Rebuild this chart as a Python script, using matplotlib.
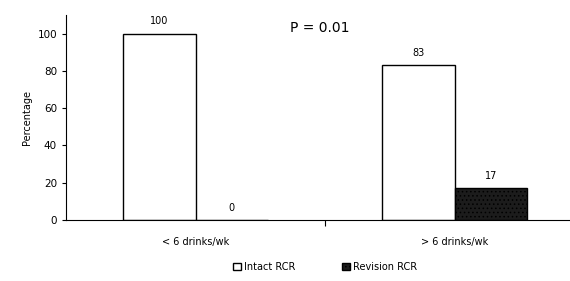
import matplotlib.pyplot as plt
import numpy as np

categories = ["< 6 drinks/wk", "> 6 drinks/wk"]
intact = [100, 83]
revision = [0, 17]
series_names = ["Intact RCR", "Revision RCR"]

plt.rcParams["hatch.color"] = "#4a4a4a"
plt.rcParams["hatch.linewidth"] = 0.6

fig = plt.figure(figsize=(5.7, 2.81), dpi=100)
ax = fig.add_axes([66 / 570, 1 - 220 / 281, 518 / 570, 205 / 281])

x = np.arange(len(categories))
w = 0.28
b1 = ax.bar(x - w / 2, intact, w, facecolor="white", edgecolor="black", linewidth=1.0, label=series_names[0])
b2 = ax.bar(x + w / 2, revision, w, facecolor="#1c1c1c", edgecolor="black", linewidth=1.0,
            hatch="....", label=series_names[1])

for bars in (b1, b2):
    for r in bars:
        ax.text(r.get_x() + r.get_width() / 2, r.get_height() + 4, f"{r.get_height():.0f}",
                ha="center", va="bottom", fontsize=7)

ax.set_xlim(-0.5, 1.5)
ax.set_ylim(0, 110)
ax.set_yticks(range(0, 101, 20))
ax.tick_params(axis="y", labelsize=7.5, length=3, direction="out")
ax.set_xticks([0.5])
ax.set_xticklabels([""])
ax.tick_params(axis="x", length=4, direction="out")
for i, c in enumerate(categories):
    ax.text(i, -9, c, ha="center", va="top", fontsize=7)
ax.set_ylabel("Percentage", fontsize=7)
ax.spines["top"].set_visible(False)
ax.spines["right"].set_visible(False)

ax.text(0.48, 103, "P = 0.01", fontsize=10, ha="center", va="center")

fig.legend(handles=[b1, b2], labels=series_names, loc="center", bbox_to_anchor=(325 / 570, 1 - 267 / 281),
           ncol=2, frameon=False, fontsize=7, handlelength=0.8, handleheight=0.8,
           columnspacing=4.8, handletextpad=0.3)

fig.savefig("out.png", dpi=100)
